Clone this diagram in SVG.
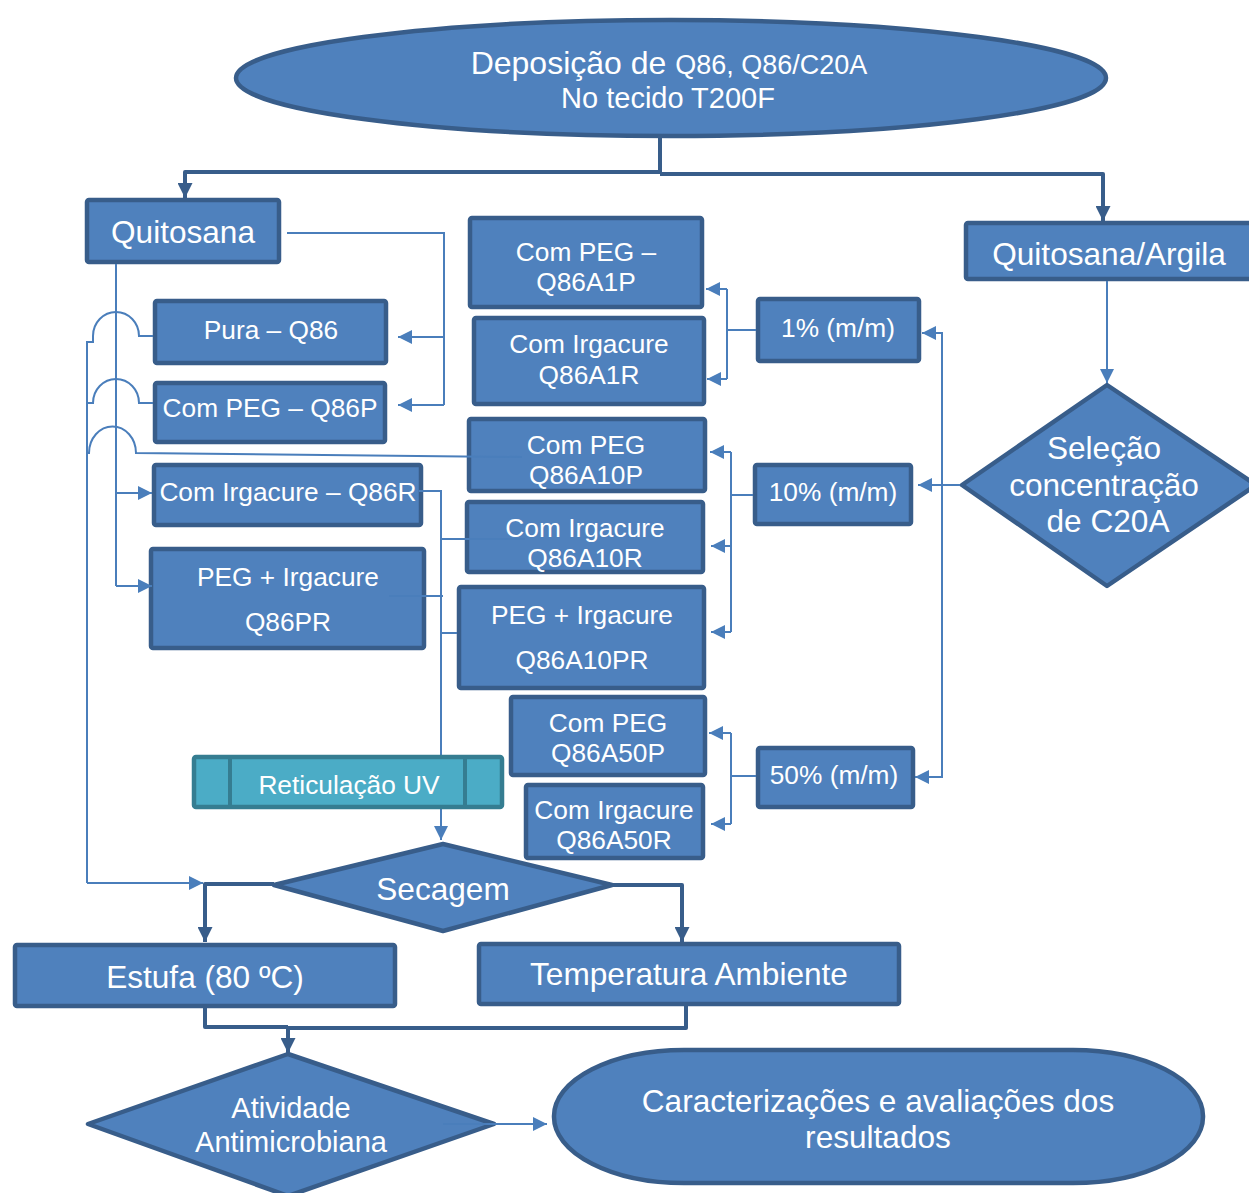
<svg xmlns="http://www.w3.org/2000/svg" width="1249" height="1193" viewBox="0 0 1249 1193">
<style>
.box{fill:#4F81BD;stroke:#385D8A;stroke-width:4.5;stroke-linejoin:round}
.uv{fill:#4BACC6;stroke:#357D91;stroke-width:4.5;stroke-linejoin:round}
.t{fill:#FFFFFF;font-family:"Liberation Sans",Arial,sans-serif;text-anchor:middle}
.s{font-size:26.3px}
.l{font-size:31.6px}
.thin{fill:none;stroke:#4A7EBB;stroke-width:2}
.thick{fill:none;stroke:#385D8A;stroke-width:4;stroke-linejoin:round}
.ta{marker-end:url(#aThin)}
.ka{marker-end:url(#aThick)}
</style>
<defs>
<marker id="aThin" markerUnits="userSpaceOnUse" viewBox="0 0 14 14" refX="14" refY="7" markerWidth="14" markerHeight="14" orient="auto"><path d="M0,0 L14,7 L0,14 z" fill="#4A7EBB"/></marker>
<marker id="aThick" markerUnits="userSpaceOnUse" viewBox="0 0 14 14" refX="14" refY="7" markerWidth="15" markerHeight="15" orient="auto"><path d="M0,0 L14,7 L0,14 z" fill="#385D8A"/></marker>
</defs>
<rect width="1249" height="1193" fill="#FFFFFF"/>

<g id="nodes">
<g id="deposicao"><ellipse class="box" cx="671" cy="78" rx="435" ry="58"/>
<text class="t" x="669" y="74"><tspan font-size="32">Deposição de </tspan><tspan font-size="27">Q86, Q86/C20A</tspan></text>
<text class="t" x="668" y="108" font-size="29">No tecido T200F</text></g>

<g id="quitosana"><rect class="box" x="87" y="200" width="192" height="62" rx="2"/><text class="t l" x="183" y="243">Quitosana</text></g>
<g id="quitosana-argila"><rect class="box" x="966" y="223" width="300" height="56" rx="2"/><text class="t l" x="1109" y="265">Quitosana/Argila</text></g>

<g id="pura"><rect class="box" x="155" y="301" width="231" height="62" rx="2"/><text class="t s" x="271" y="339">Pura – Q86</text></g>
<g id="q86p"><rect class="box" x="155" y="383" width="230" height="59" rx="2"/><text class="t s" x="270" y="417">Com PEG – Q86P</text></g>
<g id="q86r"><rect class="box" x="154" y="465" width="267" height="60" rx="2"/><text class="t s" x="288" y="501">Com Irgacure – Q86R</text></g>
<g id="q86pr"><rect class="box" x="151" y="549" width="273" height="99" rx="2"/><text class="t s" x="288" y="586">PEG + Irgacure</text><text class="t s" x="288" y="631">Q86PR</text></g>

<g id="a1p"><rect class="box" x="470" y="218" width="232" height="89" rx="2"/><text class="t s" x="586" y="261">Com PEG –</text><text class="t s" x="586" y="291">Q86A1P</text></g>
<g id="a1r"><rect class="box" x="474" y="318" width="230" height="86" rx="2"/><text class="t s" x="589" y="353">Com Irgacure</text><text class="t s" x="589" y="384">Q86A1R</text></g>
<g id="a10p"><rect class="box" x="469" y="419" width="236" height="72" rx="2"/><text class="t s" x="586" y="454">Com PEG</text><text class="t s" x="586" y="484">Q86A10P</text></g>
<g id="a10r"><rect class="box" x="467" y="502" width="236" height="70" rx="2"/><text class="t s" x="585" y="537">Com Irgacure</text><text class="t s" x="585" y="567">Q86A10R</text></g>
<g id="a10pr"><rect class="box" x="459" y="587" width="245" height="101" rx="2"/><text class="t s" x="582" y="624">PEG + Irgacure</text><text class="t s" x="582" y="669">Q86A10PR</text></g>
<g id="a50p"><rect class="box" x="511" y="697" width="194" height="78" rx="2"/><text class="t s" x="608" y="732">Com PEG</text><text class="t s" x="608" y="762">Q86A50P</text></g>
<g id="a50r"><rect class="box" x="526" y="785" width="177" height="73" rx="2"/><text class="t s" x="614" y="819">Com Irgacure</text><text class="t s" x="614" y="849">Q86A50R</text></g>

<g id="c1"><rect class="box" x="758" y="299" width="161" height="62" rx="2"/><text class="t s" x="838" y="337">1% (m/m)</text></g>
<g id="c10"><rect class="box" x="755" y="465" width="156" height="59" rx="2"/><text class="t s" x="833" y="501">10% (m/m)</text></g>
<g id="c50"><rect class="box" x="758" y="748" width="155" height="59" rx="2"/><text class="t s" x="834" y="784">50% (m/m)</text></g>

<g id="selecao"><polygon class="box" points="1107,385 1256,485 1107,586 962,485"/><text class="t l" x="1104" y="459">Seleção</text><text class="t l" x="1104" y="496">concentração</text><text class="t l" x="1108" y="532">de C20A</text></g>

<g id="secagem"><polygon class="box" points="443,844 612,885 443,931 274,885"/><text class="t l" x="443" y="900">Secagem</text></g>
<g id="estufa"><rect class="box" x="15" y="945" width="380" height="61" rx="2"/><text class="t l" x="205" y="988">Estufa (80 ºC)</text></g>
<g id="temperatura"><rect class="box" x="479" y="944" width="420" height="60" rx="2"/><text class="t l" x="689" y="985">Temperatura Ambiente</text></g>
<g id="atividade"><polygon class="box" points="288,1054 494,1124 288,1196 88,1124"/><text class="t" font-size="29" x="291" y="1118">Atividade</text><text class="t" font-size="29" x="291" y="1152">Antimicrobiana</text></g>
<g id="caracterizacoes"><rect class="box" x="554" y="1050" width="649" height="133" rx="130" ry="66"/><text class="t l" x="878" y="1112">Caracterizações e avaliações dos</text><text class="t l" x="878" y="1148">resultados</text></g>
</g>

<g id="connectors">
<path class="thick" d="M660,138 V172 H185 V198"/>
<path class="thick ka" d="M185,180 V198"/>
<path class="thick" d="M660,174 H1103 V221"/>
<path class="thick ka" d="M1103,200 V221"/>

<path class="thin" d="M287,233 H444 V405"/>
<path class="thin ta" d="M444,337 H398"/>
<path class="thin ta" d="M444,405 H398"/>

<path class="thin" d="M116,264 V586"/>
<path class="thin ta" d="M116,493 H152"/>
<path class="thin ta" d="M116,586 H152"/>

<path class="thin" d="M153,336 H139 A23,24 0 0 0 93,336 V342 H87 V883"/>
<path class="thin ta" d="M87,883 H203"/>
<path class="thin" d="M153,403 H139 A23,24 0 0 0 93,403 H87"/>
<path class="thin" d="M522,457 L136,453 A23,26 0 0 0 89,453 H87"/>

<path class="thin" d="M419,491 H441 V826"/>
<path class="thin ta" d="M441,820 V840"/>
<path class="thin" d="M525,539 H441"/>
<path class="thin" d="M389,596 H443"/>
<path class="thin" d="M457,633 H441"/>

<path class="thin ta" d="M1107,281 V383"/>
<path class="thin ta" d="M960,485 H918"/>
<path class="thin" d="M922,333 H942 V777 H920"/>
<path class="thin ta" d="M942,333 H922"/>
<path class="thin ta" d="M942,777 H915"/>

<path class="thin" d="M756,330 H727"/>
<path class="thin" d="M727,289 V379"/>
<path class="thin ta" d="M727,289 H706"/>
<path class="thin ta" d="M727,379 H707"/>

<path class="thin" d="M753,495 H731"/>
<path class="thin" d="M731,452 V632"/>
<path class="thin ta" d="M731,452 H710"/>
<path class="thin ta" d="M731,546 H711"/>
<path class="thin ta" d="M731,632 H711"/>

<path class="thin" d="M756,776 H731"/>
<path class="thin" d="M731,733 V824"/>
<path class="thin ta" d="M731,733 H709"/>
<path class="thin ta" d="M731,824 H711"/>

<path class="thick" d="M274,884 H205 V942"/>
<path class="thick ka" d="M205,920 V942"/>
<path class="thick" d="M612,885 H682 V942"/>
<path class="thick ka" d="M682,920 V942"/>
<path class="thick" d="M205,1008 V1027 H288"/>
<path class="thick" d="M686,1006 V1028 H288"/>
<path class="thick ka" d="M288,1027 V1053"/>

<path class="thin ta" d="M443,1124 H547"/>
</g>

<g id="reticulacao">
<rect class="uv" x="194" y="757" width="308" height="50" rx="2"/>
<path d="M230,757 V807 M465,757 V807" stroke="#357D91" stroke-width="4"/>
<text class="t s" x="349" y="794">Reticulação UV</text>
</g>
</svg>
